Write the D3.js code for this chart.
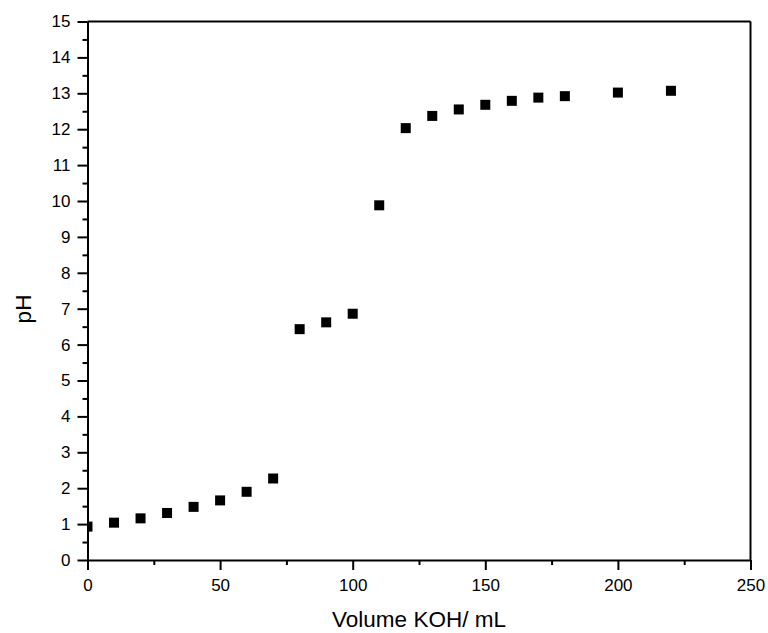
<!DOCTYPE html>
<html>
<head>
<meta charset="utf-8">
<script src="https://cdn.jsdelivr.net/npm/d3@7"></script>
<style>
  body { margin: 0; background: #fff; }
  text { font-family: "Liberation Sans", Arial, sans-serif; fill: #000; }
</style>
</head>
<body>
<script>
// titration data
const volume = [0, 10, 20, 30, 40, 50, 60, 70, 80, 90, 100, 110, 120, 130, 140, 150, 160, 170, 180, 200, 220];
const pH = [0.93, 1.04, 1.16, 1.31, 1.48, 1.66, 1.90, 2.27, 6.43, 6.62, 6.86, 9.88, 12.03, 12.37, 12.55, 12.68, 12.79, 12.88, 12.92, 13.02, 13.07];

const xTicks = [0, 50, 100, 150, 200, 250];
const xMinor = [25, 75, 125, 175, 225];
const yTicks = d3.range(0, 16);
const yMinor = d3.range(0.5, 15, 1);

const data = volume.map((v, i) => ({v: v, ph: pH[i]}));

// set the dimensions and margins
var margin = {top: 21.5, right: 17.5, bottom: 73, left: 87.5},
    width = 768 - margin.left - margin.right,
    height = 633 - margin.top - margin.bottom;

var x = d3.scaleLinear().domain([0, 250]).range([0, width]);
var y = d3.scaleLinear().domain([0, 15]).range([height, 0]);

var svg = d3.select("body").append("svg")
    .attr("width", 768)
    .attr("height", 633)
    .append("g")
    .attr("transform", "translate(" + margin.left + "," + margin.top + ")");

svg.append("clipPath").attr("id", "plot")
    .append("rect").attr("width", width).attr("height", height);

// points
svg.append("g").attr("clip-path", "url(#plot)")
    .selectAll("rect").data(data).enter().append("rect")
    .attr("x", d => x(d.v) - 5)
    .attr("y", d => y(d.ph) - 5)
    .attr("width", 10)
    .attr("height", 10)
    .attr("fill", "#000");

// frame top and right
svg.append("line").attr("x1", 0).attr("x2", width).attr("y1", 0).attr("y2", 0)
    .attr("stroke", "#000").attr("stroke-width", 2);
svg.append("line").attr("x1", width).attr("x2", width).attr("y1", 0).attr("y2", height)
    .attr("stroke", "#000").attr("stroke-width", 2);

// x axis
svg.append("g")
    .attr("transform", "translate(0," + height + ")")
    .call(d3.axisBottom(x).tickValues(xMinor).tickSize(5).tickFormat(""))
    .call(g => g.select(".domain").remove());
var xAxis = svg.append("g")
    .attr("transform", "translate(0," + height + ")")
    .call(d3.axisBottom(x).tickValues(xTicks).tickSize(10).tickPadding(9).tickSizeOuter(0));

// y axis
svg.append("g")
    .call(d3.axisLeft(y).tickValues(yMinor).tickSize(5).tickFormat(""))
    .call(g => g.select(".domain").remove());
var yAxis = svg.append("g")
    .call(d3.axisLeft(y).tickValues(yTicks).tickSize(10).tickPadding(7).tickSizeOuter(0));

svg.selectAll(".domain, .tick line").attr("stroke", "#000").attr("stroke-width", 2);
svg.selectAll(".tick text").style("font-size", "17px").style("font-family", "'Liberation Sans', Arial, sans-serif");

// axis titles
svg.append("text")
    .attr("x", width / 2)
    .attr("y", 627 - margin.top)
    .attr("text-anchor", "middle")
    .style("font-size", "22.5px")
    .text("Volume KOH/ mL");

svg.append("text")
    .attr("transform", "translate(" + (31 - margin.left) + "," + (309 - margin.top) + ") rotate(-90)")
    .attr("text-anchor", "middle")
    .style("font-size", "22.5px")
    .text("pH");
</script>
</body>
</html>
